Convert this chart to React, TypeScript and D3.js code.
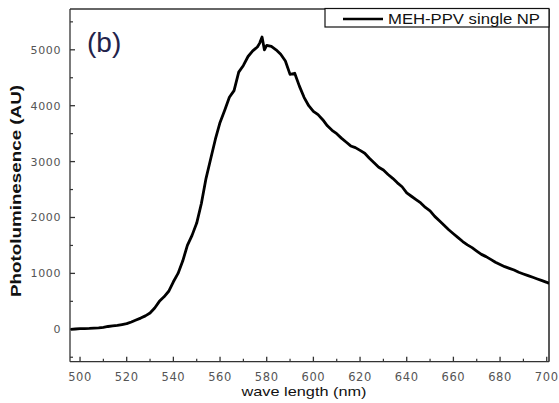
import React from "react";
import * as d3 from "d3";

const wavelengths = [
  496, 498, 500, 502, 504, 506, 508, 510, 512, 514, 516, 518, 520, 522, 524, 526, 528, 530,
  532, 534, 536, 538, 540, 542, 544, 546, 548, 550, 552, 554, 556, 558, 560, 562, 564, 566,
  568, 570, 572, 574, 576, 577, 578, 579, 580, 582, 584, 586, 588, 590, 592, 594, 596, 598,
  600, 602, 604, 606, 608, 610, 612, 614, 616, 618, 620, 622, 624, 626, 628, 630, 632, 634,
  636, 638, 640, 642, 644, 646, 648, 650, 652, 654, 656, 658, 660, 662, 664, 666, 668, 670,
  672, 674, 676, 678, 680, 682, 684, 686, 688, 690, 692, 694, 696, 698, 700, 701,
];
const intensity = [
  0, 5, 10, 12, 15, 20, 25, 35, 50, 60, 70, 85, 100, 130, 165, 200, 240, 290,
  380, 500, 580, 680, 850, 1000, 1220, 1500, 1680, 1900, 2250, 2700, 3050, 3400, 3700, 3920, 4150, 4270,
  4600, 4720, 4880, 4980, 5050, 5120, 5230, 5000, 5080, 5060, 5000, 4920, 4800, 4560, 4580, 4350, 4150, 4000,
  3900, 3840, 3750, 3640, 3560, 3500, 3420, 3350, 3280, 3250, 3200, 3150, 3060, 2980, 2900, 2850, 2770, 2700,
  2620, 2550, 2440, 2380, 2320, 2260, 2180, 2120, 2020, 1940, 1860, 1780, 1710, 1640, 1570, 1510, 1460, 1400,
  1340, 1300, 1250, 1200, 1160, 1120, 1090, 1060, 1020, 990, 960, 930, 900, 870, 840, 820,
];
const xMajorTicks = [500, 520, 540, 560, 580, 600, 620, 640, 660, 680, 700];
const xMinorTicks = [510, 530, 550, 570, 590, 610, 630, 650, 670, 690];
const yMajorTicks = [0, 1000, 2000, 3000, 4000, 5000];
const yMinorTicks = [-500, 500, 1500, 2500, 3500, 4500, 5500];
const seriesName = "MEH-PPV single NP";
const panelLabel = "(b)";
const xTitle = "wave length (nm)";
const yTitle = "Photoluminesence (AU)";

const W = 559;
const H = 403;
const L = 70;
const R = 549;
const T = 9;
const B = 361.7;

export default function App() {
  const x = d3.scaleLinear().domain([495.7, 700.97]).range([L, R]);
  const y = d3.scaleLinear().domain([-580, 5730]).range([B, T]);
  const data = wavelengths.map((w, i) => [w, intensity[i]] as [number, number]);
  const line = d3
    .line<[number, number]>()
    .x((d) => x(d[0]))
    .y((d) => y(d[1]));
  const tickFont = "'DejaVu Sans', sans-serif";
  return (
    <svg
      width={W}
      height={H}
      style={{ position: "absolute", left: 0, top: 0, background: "#fff" }}
    >
      <rect x={0} y={0} width={W} height={H} fill="#fff" />
      <defs>
        <clipPath id="plotclip">
          <rect x={L} y={T} width={R - L} height={B - T} />
        </clipPath>
      </defs>
      {/* frame */}
      <line x1={L} y1={T} x2={R} y2={T} stroke="#333" strokeWidth={1.3} />
      <line x1={R} y1={T} x2={R} y2={B} stroke="#222" strokeWidth={1.5} />
      <line x1={L} y1={T} x2={L} y2={B} stroke="#333" strokeWidth={1.3} />
      <line x1={L} y1={B} x2={R} y2={B} stroke="#333" strokeWidth={1.3} />
      {/* x ticks */}
      {xMajorTicks.map((t) => (
        <g key={"xm" + t}>
          <line x1={x(t)} x2={x(t)} y1={B} y2={B - 5} stroke="#333" strokeWidth={1.3} />
          <text
            x={x(t)}
            y={381}
            textAnchor="middle"
            fontFamily={tickFont}
            fontSize={11.5}
            letterSpacing={0.6}
            fill="#555"
          >
            {t}
          </text>
        </g>
      ))}
      {xMinorTicks.map((t) => (
        <line key={"xn" + t} x1={x(t)} x2={x(t)} y1={B} y2={B - 3} stroke="#333" strokeWidth={1.2} />
      ))}
      {/* y ticks */}
      {yMajorTicks.map((t) => (
        <g key={"ym" + t}>
          <line x1={L} x2={L + 5} y1={y(t)} y2={y(t)} stroke="#333" strokeWidth={1.3} />
          <text
            x={61}
            y={y(t) + 4}
            textAnchor="end"
            fontFamily={tickFont}
            fontSize={11}
            letterSpacing={0.6}
            fill="#555"
          >
            {t}
          </text>
        </g>
      ))}
      {yMinorTicks.map((t) => (
        <line key={"yn" + t} x1={L} x2={L + 3} y1={y(t)} y2={y(t)} stroke="#333" strokeWidth={1.2} />
      ))}
      {/* curve */}
      <path
        d={line(data) || ""}
        fill="none"
        stroke="#000"
        strokeWidth={2.8}
        strokeLinejoin="round"
        clipPath="url(#plotclip)"
      />
      {/* panel label */}
      <text
        x={87}
        y={52}
        fontFamily="'Liberation Sans', Arial, sans-serif"
        fontSize={28}
        fill="#23234a"
      >
        {panelLabel}
      </text>
      {/* legend */}
      <rect x={325} y={8.5} width={224} height={18.5} fill="#fff" stroke="#111" strokeWidth={1.2} />
      <line x1={343} x2={383} y1={19} y2={19} stroke="#000" strokeWidth={2.5} />
      <text
        x={388}
        y={24}
        fontFamily="'Liberation Sans', Arial, sans-serif"
        fontSize={14.5}
        textLength={152}
        lengthAdjust="spacingAndGlyphs"
        fill="#111"
      >
        {seriesName}
      </text>
      {/* axis titles */}
      <text
        x={304}
        y={396}
        textAnchor="middle"
        fontFamily="'Liberation Sans', Arial, sans-serif"
        fontSize={13.5}
        textLength={125}
        lengthAdjust="spacingAndGlyphs"
        fill="#111"
      >
        {xTitle}
      </text>
      <text
        transform={`translate(20.5, 191) rotate(-90)`}
        textAnchor="middle"
        fontFamily="'Liberation Sans', Arial, sans-serif"
        fontWeight="bold"
        fontSize={14.5}
        textLength={212}
        lengthAdjust="spacingAndGlyphs"
        fill="#111"
      >
        {yTitle}
      </text>
    </svg>
  );
}
